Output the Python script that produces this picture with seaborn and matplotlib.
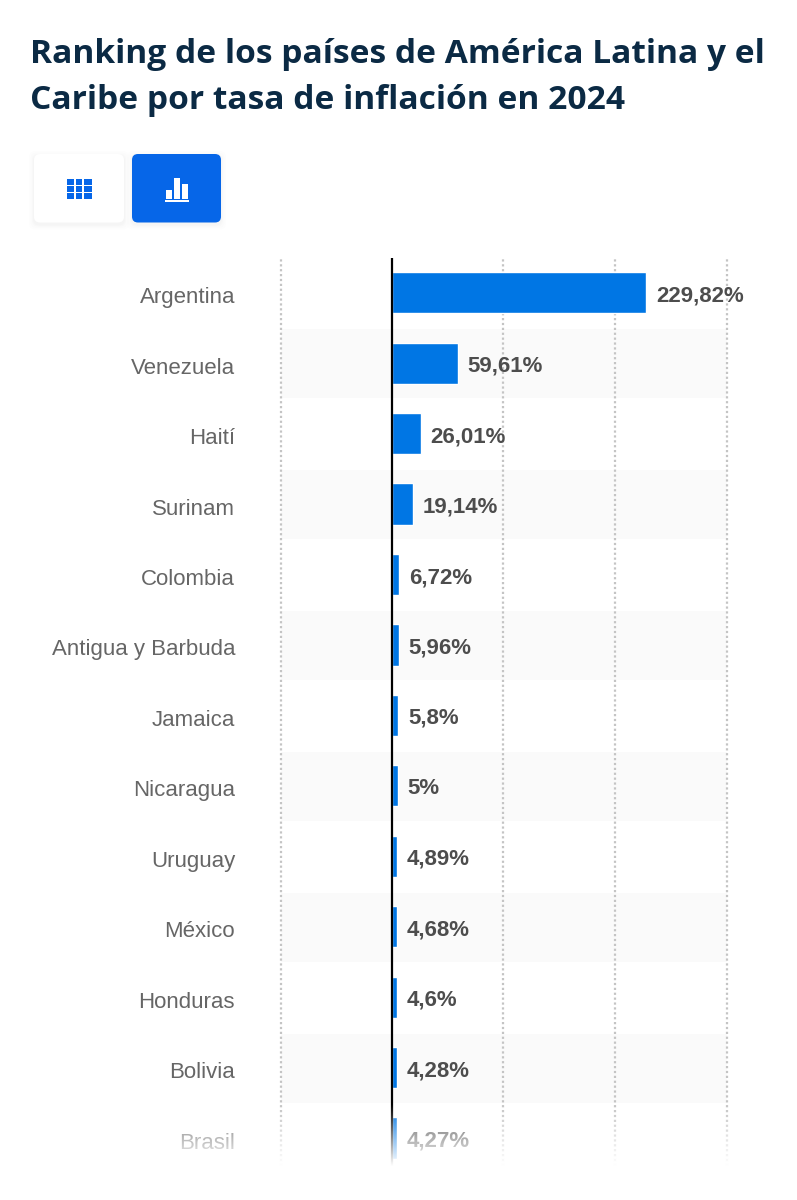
import numpy as np
import pandas as pd
import matplotlib
matplotlib.use("Agg")
import matplotlib.pyplot as plt
from matplotlib.patches import FancyBboxPatch, Rectangle
from matplotlib.transforms import ScaledTranslation
import seaborn as sns

title_lines = ["Ranking de los países de América Latina y el",
               "Caribe por tasa de inflación en 2024"]
countries = ["Argentina", "Venezuela", "Haití", "Surinam", "Colombia",
             "Antigua y Barbuda", "Jamaica", "Nicaragua", "Uruguay",
             "México", "Honduras", "Bolivia", "Brasil"]
inflation = [229.82, 59.61, 26.01, 19.14, 6.72, 5.96, 5.8, 5, 4.89,
             4.68, 4.6, 4.28, 4.27]
value_labels = ["229,82%", "59,61%", "26,01%", "19,14%", "6,72%", "5,96%",
                "5,8%", "5%", "4,89%", "4,68%", "4,6%", "4,28%", "4,27%"]
grid_ticks = [-100.7, 0, 100.5, 201, 302.6]

W, H = 797, 1200
BLUE = "#0076e4"
BTN = "#0666e8"

sns.set_theme(style="white")
plt.rcParams["font.family"] = ["Liberation Sans", "DejaVu Sans"]

df = pd.DataFrame({"pais": countries, "tasa": inflation})

fig = plt.figure(figsize=(W / 100, H / 100), dpi=100, facecolor="white")

# chart area, in pixels of the picture
left, right, top, bottom = 280.5, 727, 258, 1166
ax = fig.add_axes([left / W, 1 - bottom / H, (right - left) / W, (bottom - top) / H])

sns.barplot(data=df, y="pais", x="tasa", color=BLUE, width=0.585, saturation=1, ax=ax, zorder=3)

ax.set_xlim(grid_ticks[0], grid_ticks[-1])
row_h = 70.45
row0 = 292.7
ax.set_ylim((bottom - row0) / row_h, (top - row0) / row_h)

# zebra rows
for i in range(1, len(countries), 2):
    ax.axhspan(i - 0.48, i + 0.5, color="#fafafa", lw=0, zorder=0)

ax.set_xticks(grid_ticks)
ax.set_axisbelow(False)
for t in grid_ticks:
    if t == 0:
        ax.axvline(t, color="black", lw=1.6, zorder=4)
    else:
        ax.axvline(t, color="#c4c4c4", lw=1.6, ls=(0, (1, 1.2)), zorder=1, clip_on=False)

ax.set_xlabel("")
ax.set_ylabel("")
ax.tick_params(axis="x", length=0, labelbottom=False)
ax.tick_params(axis="y", length=0, pad=32.7, labelsize=16, labelcolor="#666666")
for label in ax.get_yticklabels():
    label.set_transform(label.get_transform() + ScaledTranslation(0, -2.5 / 100, fig.dpi_scale_trans))
sns.despine(ax=ax, left=True, bottom=True, top=True, right=True)

bar_text = ax.bar_label(ax.containers[0], labels=value_labels, padding=7,
                        fontsize=16, fontweight="bold", color="#4d4d4d")
for t in bar_text:
    t.xyann = (t.xyann[0], -2.2)

# page layer in pixels: title and toggle buttons
page = fig.add_axes([0, 0, 1, 1], zorder=5)
page.set_xlim(0, W)
page.set_ylim(H, 0)
page.axis("off")

page.text(30, 54.5, title_lines[0], family="Open Sans", fontweight="bold", fontsize=24.1,
          color="#0b2a44", va="center", ha="left")
page.text(30, 100.5, title_lines[1], family="Open Sans", fontweight="bold", fontsize=24.1,
          color="#0b2a44", va="center", ha="left")

# soft shadow under the buttons
for grow, a in [(5, 0.006), (3.5, 0.008), (2, 0.01), (1, 0.012)]:
    for x0, x1 in [(34, 124), (132, 221)]:
        page.add_patch(FancyBboxPatch((x0 - grow, 154 - grow + 2), x1 - x0 + 2 * grow, 68.5 + 2 * grow,
                                      boxstyle="round,pad=0,rounding_size=6", fc="black", ec="none", alpha=a))
page.add_patch(FancyBboxPatch((34, 154), 90, 68.5, boxstyle="round,pad=0,rounding_size=6", fc="white", ec="none"))
page.add_patch(FancyBboxPatch((132, 154), 89, 68.5, boxstyle="round,pad=0,rounding_size=6", fc=BTN, ec="none"))

# table icon
for cx, w in [(67, 7.2), (75.8, 6.2), (84, 8)]:
    for cy in [179, 186.2, 193.4]:
        page.add_patch(Rectangle((cx, cy), w, 5.8, fc=BTN, ec="none"))

# bars icon
page.add_patch(Rectangle((166, 190), 6, 8.5, fc="white", ec="none"))
page.add_patch(Rectangle((174, 178), 6, 20.5, fc="white", ec="none"))
page.add_patch(Rectangle((182, 184), 6, 14.5, fc="white", ec="none"))
page.add_patch(Rectangle((165, 200), 24, 2, fc="white", ec="none"))

# fade out at the bottom of the list
fade_top, fade_bottom = 1105, 1166
fade = np.ones((256, 2, 4))
fade[:, :, 3] = np.linspace(0, 1, 256)[:, None]
fade_ax = fig.add_axes([0, 1 - fade_bottom / H, 1, (fade_bottom - fade_top) / H], zorder=6)
fade_ax.imshow(fade, aspect="auto")
fade_ax.axis("off")

fig.savefig("out.png", dpi=100, facecolor="white")
